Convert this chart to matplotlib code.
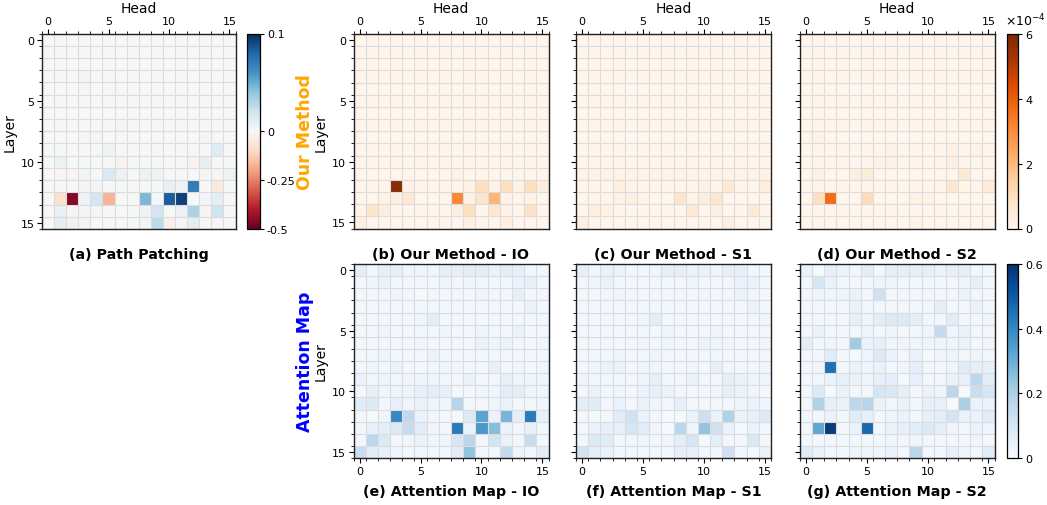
import numpy as np
import matplotlib
matplotlib.use("Agg")
import matplotlib.pyplot as plt
from matplotlib.colors import TwoSlopeNorm, Normalize

plt.rcParams["font.family"] = ["DejaVu Sans"]

N_LAYERS = 16
N_HEADS = 16

# Path patching effect per (layer, head)
path_patching = [
    [0, 0, 0, 0, 0, 0, 0, 0, 0, 0, 0, 0, 0, 0, 0, 0],
    [0, 0, 0, 0, 0, 0, 0, 0, 0, 0, 0, 0, 0, 0, 0, 0],
    [0, 0, 0, 0, 0, 0, 0, 0, 0, 0, 0, 0, 0, 0, 0, 0],
    [0, 0, 0, 0.002, 0, 0, 0, 0, 0, 0, 0, 0, 0, 0, 0, 0],
    [0, 0, 0, 0.002, 0, 0.002, 0, 0, 0, 0, 0, 0, 0, 0, 0, 0],
    [0, 0, 0, 0, 0, 0, 0, 0, 0, 0, 0, 0, 0, 0, 0, 0],
    [0, 0, 0, 0, 0, 0, 0, 0, 0, 0, 0, 0, 0, 0, 0, 0],
    [0, 0, 0, 0, 0, 0, 0.002, 0, 0, 0, 0, 0, 0, 0, 0, 0],
    [0, 0, 0, 0.002, 0.002, 0, 0, 0, 0, 0, 0, 0, 0, 0.002, 0, 0],
    [0, 0, 0, 0, 0, 0.004, 0, 0, 0, -0.002, 0, 0, 0, 0, 0.012, 0],
    [0, 0.005, 0, 0, 0, 0, -0.012, 0, 0, 0, 0, 0, -0.015, 0.008, 0, 0],
    [0, -0.008, -0.012, 0.003, 0, 0.015, 0.005, 0, 0.005, 0.004, 0, 0, 0, -0.008, 0.002, 0.005],
    [0, 0, 0, -0.01, 0.002, 0, 0, 0, 0, 0, 0.008, 0.004, 0.07, 0, -0.05, 0],
    [0, -0.08, -0.46, 0.006, 0.018, -0.17, 0, 0, 0.045, 0.001, 0.083, 0.093, 0, 0.002, 0.01, 0],
    [0, 0.008, -0.004, 0.002, -0.006, 0, 0, 0, 0.004, 0.018, 0, 0.005, 0.032, -0.005, 0.02, 0],
    [0, 0.01, 0.005, -0.012, 0, 0, 0, 0, 0.003, 0.027, -0.03, 0.002, 0.01, 0, -0.005, 0],
]

# Our method scores, in units of 1e-4
ours_io = [
    [0, 0, 0, 0, 0, 0, 0, 0, 0, 0, 0, 0, 0, 0, 0, 0],
    [0, 0, 0, 0, 0, 0, 0, 0, 0, 0, 0, 0, 0, 0, 0, 0],
    [0, 0, 0, 0, 0, 0, 0, 0, 0, 0, 0, 0, 0, 0, 0, 0],
    [0, 0, 0, 0, 0, 0, 0, 0, 0, 0, 0, 0, 0, 0, 0, 0],
    [0, 0, 0, 0, 0, 0, 0, 0, 0, 0, 0, 0, 0, 0, 0, 0],
    [0, 0, 0, 0, 0, 0, 0, 0, 0, 0, 0, 0, 0, 0, 0, 0],
    [0, 0, 0, 0, 0, 0, 0, 0, 0, 0, 0, 0, 0, 0, 0, 0],
    [0, 0, 0, 0, 0, 0, 0, 0, 0, 0, 0, 0, 0, 0, 0, 0],
    [0, 0, 0, 0, 0, 0, 0, 0, 0, 0, 0, 0, 0, 0, 0, 0],
    [0, 0, 0, 0, 0, 0, 0, 0, 0, 0, 0, 0, 0, 0, 0, 0],
    [0, 0, 0, 0, 0, 0, 0, 0, 0, 0, 0, 0, 0, 0, 0, 0],
    [0, 0, 0, 0, 0, 0, 0, 0, 0.2, 0, 0, 0, 0, 0, 0, 0],
    [0, 0, 0, 5.8, 0.1, 0, 0, 0, 0, 0.2, 1.0, 0.1, 1.0, 0.1, 1.0, 0.4],
    [0, 0, 0.1, 0.3, 0.6, 0, 0, 0, 3.1, 0.2, 0.8, 2.1, 0.1, 0, 0.1, 0],
    [0, 0.8, 0.4, 0, 0, 0, 0, 0, 0.3, 1.0, 0, 0.7, 0.2, 0, 0.9, 0],
    [0.3, 0, 0, 0, 0, 0, 0, 0, 0, 0.3, 0, 0, 0.3, 0, 0, 0],
]
ours_s1 = [
    [0, 0, 0, 0, 0, 0, 0, 0, 0, 0, 0, 0, 0, 0, 0, 0],
    [0, 0, 0, 0, 0, 0, 0, 0, 0, 0, 0, 0, 0, 0, 0, 0],
    [0, 0, 0, 0, 0, 0, 0, 0, 0, 0, 0, 0, 0, 0, 0, 0],
    [0, 0, 0, 0, 0, 0, 0, 0, 0, 0, 0, 0, 0, 0, 0, 0],
    [0, 0, 0, 0, 0, 0, 0, 0, 0, 0, 0, 0, 0, 0, 0, 0],
    [0, 0, 0, 0, 0, 0, 0, 0, 0, 0, 0, 0, 0, 0, 0, 0],
    [0, 0, 0, 0, 0, 0, 0, 0, 0, 0, 0, 0, 0, 0, 0, 0],
    [0, 0, 0, 0, 0, 0, 0, 0, 0, 0, 0, 0, 0, 0, 0, 0],
    [0, 0, 0, 0, 0, 0, 0, 0, 0, 0, 0, 0, 0, 0, 0, 0],
    [0, 0, 0, 0, 0, 0, 0, 0, 0, 0, 0, 0, 0, 0, 0, 0],
    [0, 0, 0, 0, 0, 0, 0, 0, 0, 0, 0, 0, 0, 0, 0, 0],
    [0.1, 0.1, 0.1, 0.1, 0.1, 0.1, 0.1, 0.1, 0.1, 0.1, 0.1, 0.1, 0.1, 0.1, 0.1, 0.1],
    [0, 0, 0, 0.3, 0.15, 0, 0, 0, 0, 0, 0.2, 0, 0.6, 0, 0, 0.4],
    [0, 0, 0, 0.2, 0.3, 0.15, 0, 0, 0.8, 0.15, 0.4, 0.7, 0, 0, 0, 0],
    [0, 0.3, 0.2, 0, 0, 0, 0, 0, 0, 0.6, 0, 0.3, 0, 0, 0.6, 0],
    [0.3, 0, 0, 0, 0, 0, 0, 0, 0, 0, 0, 0, 0.3, 0, 0, 0],
]
ours_s2 = [
    [0, 0, 0, 0, 0, 0, 0, 0, 0, 0, 0, 0, 0, 0, 0, 0],
    [0, 0, 0, 0, 0, 0, 0, 0, 0, 0, 0, 0, 0, 0, 0, 0],
    [0, 0, 0, 0, 0, 0, 0, 0, 0, 0, 0, 0, 0, 0, 0, 0],
    [0, 0, 0, 0, 0, 0, 0, 0, 0, 0, 0, 0, 0, 0, 0, 0],
    [0, 0, 0, 0, 0, 0, 0, 0, 0, 0, 0, 0, 0, 0, 0, 0],
    [0, 0, 0, 0, 0, 0, 0, 0, 0, 0, 0, 0, 0, 0, 0, 0],
    [0, 0, 0, 0, 0, 0, 0, 0, 0, 0, 0, 0, 0, 0, 0, 0],
    [0, 0, 0, 0, 0, 0, 0, 0, 0, 0, 0, 0, 0, 0, 0, 0],
    [0, 0.1, 0, 0, 0, 0, 0, 0, 0, 0, 0, 0, 0, 0, 0, 0],
    [0, 0, 0, 0, 0, 0, 0, 0.15, 0, 0, 0, 0, 0.2, 0, 0.1, 0],
    [0, 0, 0, 0, 0, 0, 0.15, 0.2, 0, 0, 0, 0, 0.3, 0, 0, 0],
    [0, 0.2, 0, 0, 0.3, 0.5, 0, 0, 0, 0, 0, 0, 0, 0.6, 0, 0],
    [0, 0, 0, 0, 0, 0, 0, 0, 0, 0, 0, 0, 0.7, 0, 0, 0.5],
    [0, 1.0, 3.7, 0, 0, 1.1, 0, 0, 0, 0.2, 0.2, 0, 0, 0, 0, 0],
    [0, 0, 0, 0, 0, 0, 0, 0, 0, 0, 0, 0, 0, 0, 0, 0],
    [0, 0, 0, 0, 0, 0, 0, 0, 0, 0.1, 0, 0, 0, 0, 0, 0],
]

# Attention weights per (layer, head)
attn_io = [
    [0.06, 0.02, 0.05, 0.05, 0.03, 0.03, 0.03, 0.05, 0.05, 0.06, 0.06, 0.04, 0.06, 0.05, 0.02, 0.02],
    [0.02, 0.03, 0.04, 0.02, 0.02, 0.02, 0.02, 0.03, 0.02, 0.03, 0.02, 0.02, 0.02, 0.04, 0.05, 0.02],
    [0.02, 0.02, 0.02, 0.03, 0.02, 0.01, 0.02, 0.02, 0.02, 0.02, 0.03, 0.02, 0.02, 0.05, 0.02, 0.02],
    [0.02, 0.02, 0.02, 0.02, 0.02, 0.02, 0.02, 0.02, 0.02, 0.02, 0.02, 0.02, 0.02, 0.02, 0.04, 0.02],
    [0.02, 0.02, 0.02, 0.02, 0.02, 0.03, 0.06, 0.02, 0.02, 0.02, 0.02, 0.02, 0.02, 0.02, 0.02, 0.02],
    [0.02, 0.02, 0.03, 0.02, 0.02, 0.02, 0.02, 0.03, 0.02, 0.02, 0.03, 0.02, 0.02, 0.04, 0.02, 0.02],
    [0.02, 0.02, 0.02, 0.02, 0.02, 0.03, 0.02, 0.02, 0.02, 0.02, 0.04, 0.03, 0.04, 0.02, 0.02, 0.03],
    [0.02, 0.02, 0.03, 0.02, 0.02, 0.02, 0.04, 0.02, 0.02, 0.02, 0.02, 0.02, 0.02, 0.02, 0.02, 0.02],
    [0.02, 0.03, 0.02, 0.04, 0.02, 0.02, 0.02, 0.03, 0.03, 0.02, 0.02, 0.05, 0.02, 0.03, 0.02, 0.03],
    [0.04, 0.02, 0.03, 0.02, 0.03, 0.03, 0.03, 0.02, 0.02, 0.04, 0.02, 0.02, 0.05, 0.03, 0.03, 0.03],
    [0.02, 0.05, 0.03, 0.03, 0.03, 0.05, 0.06, 0.05, 0.02, 0.02, 0.03, 0.03, 0.06, 0.06, 0.03, 0.03],
    [0.07, 0.08, 0.02, 0.05, 0.03, 0.04, 0.03, 0.03, 0.18, 0.02, 0.02, 0.03, 0.04, 0.02, 0.02, 0.03],
    [0.02, 0.01, 0.03, 0.40, 0.16, 0.04, 0.02, 0.02, 0.01, 0.08, 0.33, 0.04, 0.28, 0.06, 0.43, 0.05],
    [0.02, 0.05, 0.06, 0.08, 0.15, 0.07, 0.03, 0.02, 0.43, 0.04, 0.36, 0.26, 0.04, 0.02, 0.05, 0.02],
    [0.02, 0.17, 0.08, 0.02, 0.03, 0.04, 0.03, 0.03, 0.10, 0.17, 0.02, 0.11, 0.04, 0.02, 0.14, 0.02],
    [0.14, 0.07, 0.05, 0.03, 0.02, 0.02, 0.02, 0.02, 0.06, 0.24, 0.02, 0.02, 0.15, 0.03, 0.02, 0.06],
]
attn_s1 = [
    [0.05, 0.02, 0.04, 0.04, 0.02, 0.02, 0.03, 0.05, 0.05, 0.04, 0.04, 0.03, 0.05, 0.05, 0.02, 0.02],
    [0.02, 0.03, 0.04, 0.02, 0.02, 0.02, 0.02, 0.02, 0.02, 0.03, 0.02, 0.02, 0.02, 0.04, 0.04, 0.02],
    [0.02, 0.02, 0.02, 0.03, 0.02, 0.02, 0.02, 0.02, 0.02, 0.02, 0.03, 0.02, 0.02, 0.04, 0.02, 0.02],
    [0.02, 0.02, 0.02, 0.02, 0.02, 0.02, 0.02, 0.02, 0.02, 0.02, 0.02, 0.02, 0.02, 0.02, 0.04, 0.02],
    [0.02, 0.02, 0.02, 0.02, 0.02, 0.03, 0.06, 0.02, 0.02, 0.02, 0.02, 0.02, 0.02, 0.02, 0.02, 0.03],
    [0.02, 0.02, 0.02, 0.02, 0.02, 0.02, 0.02, 0.03, 0.02, 0.02, 0.02, 0.03, 0.02, 0.02, 0.02, 0.02],
    [0.02, 0.02, 0.02, 0.02, 0.02, 0.03, 0.02, 0.03, 0.02, 0.02, 0.04, 0.03, 0.03, 0.02, 0.02, 0.03],
    [0.02, 0.02, 0.02, 0.03, 0.02, 0.02, 0.03, 0.02, 0.02, 0.02, 0.02, 0.02, 0.02, 0.02, 0.02, 0.02],
    [0.02, 0.03, 0.04, 0.04, 0.02, 0.03, 0.03, 0.02, 0.02, 0.03, 0.02, 0.05, 0.02, 0.02, 0.02, 0.03],
    [0.03, 0.02, 0.02, 0.02, 0.02, 0.03, 0.05, 0.02, 0.02, 0.04, 0.02, 0.02, 0.05, 0.04, 0.03, 0.03],
    [0.02, 0.04, 0.02, 0.03, 0.02, 0.04, 0.05, 0.04, 0.02, 0.02, 0.02, 0.03, 0.05, 0.04, 0.03, 0.02],
    [0.06, 0.07, 0.02, 0.04, 0.02, 0.04, 0.03, 0.02, 0.05, 0.02, 0.02, 0.02, 0.02, 0.03, 0.04, 0.03],
    [0.02, 0.01, 0.02, 0.07, 0.12, 0.04, 0.02, 0.01, 0.01, 0.04, 0.13, 0.04, 0.19, 0.04, 0.05, 0.08],
    [0.02, 0.04, 0.05, 0.05, 0.10, 0.07, 0.03, 0.01, 0.17, 0.03, 0.24, 0.12, 0.04, 0.01, 0.04, 0.02],
    [0.02, 0.08, 0.07, 0.02, 0.02, 0.03, 0.02, 0.03, 0.06, 0.10, 0.01, 0.06, 0.02, 0.02, 0.09, 0.02],
    [0.11, 0.06, 0.04, 0.02, 0.02, 0.02, 0.02, 0.02, 0.05, 0.05, 0.02, 0.02, 0.12, 0.02, 0.01, 0.04],
]
attn_s2 = [
    [0.04, 0.01, 0.05, 0.04, 0.02, 0.06, 0.02, 0.05, 0.05, 0.05, 0.05, 0.04, 0.05, 0.05, 0.02, 0.02],
    [0.02, 0.10, 0.04, 0.02, 0.02, 0.02, 0.03, 0.03, 0.02, 0.02, 0.02, 0.02, 0.02, 0.03, 0.05, 0.02],
    [0.03, 0.03, 0.03, 0.03, 0.04, 0.02, 0.12, 0.02, 0.02, 0.02, 0.02, 0.02, 0.02, 0.04, 0.02, 0.02],
    [0.02, 0.02, 0.02, 0.02, 0.04, 0.02, 0.02, 0.02, 0.02, 0.02, 0.02, 0.06, 0.02, 0.02, 0.04, 0.02],
    [0.02, 0.02, 0.02, 0.02, 0.05, 0.03, 0.06, 0.08, 0.08, 0.06, 0.02, 0.02, 0.07, 0.02, 0.02, 0.03],
    [0.02, 0.04, 0.02, 0.02, 0.02, 0.03, 0.02, 0.03, 0.02, 0.02, 0.03, 0.15, 0.03, 0.04, 0.02, 0.02],
    [0.06, 0.02, 0.03, 0.02, 0.22, 0.04, 0.05, 0.03, 0.03, 0.03, 0.03, 0.03, 0.03, 0.04, 0.02, 0.03],
    [0.02, 0.02, 0.07, 0.02, 0.01, 0.03, 0.08, 0.04, 0.02, 0.04, 0.01, 0.03, 0.03, 0.02, 0.03, 0.02],
    [0.02, 0.03, 0.45, 0.02, 0.04, 0.03, 0.04, 0.02, 0.03, 0.05, 0.02, 0.02, 0.03, 0.07, 0.05, 0.05],
    [0.02, 0.02, 0.04, 0.05, 0.04, 0.03, 0.05, 0.06, 0.01, 0.05, 0.02, 0.02, 0.04, 0.05, 0.17, 0.07],
    [0.02, 0.08, 0.01, 0.04, 0.02, 0.02, 0.10, 0.09, 0.05, 0.02, 0.04, 0.03, 0.17, 0.01, 0.14, 0.10],
    [0.02, 0.19, 0.05, 0.04, 0.17, 0.18, 0.04, 0.02, 0.04, 0.02, 0.05, 0.05, 0.01, 0.20, 0.04, 0.04],
    [0.02, 0.02, 0.04, 0.02, 0.07, 0.05, 0.02, 0.03, 0.04, 0.02, 0.05, 0.06, 0.11, 0.04, 0.04, 0.07],
    [0.02, 0.32, 0.57, 0.02, 0.04, 0.47, 0.02, 0.04, 0.05, 0.07, 0.08, 0.06, 0.03, 0.02, 0.04, 0.03],
    [0.02, 0.02, 0.02, 0.02, 0.02, 0.02, 0.02, 0.03, 0.02, 0.03, 0.02, 0.02, 0.02, 0.02, 0.03, 0.02],
    [0.07, 0.04, 0.02, 0.02, 0.03, 0.03, 0.03, 0.04, 0.02, 0.17, 0.02, 0.02, 0.05, 0.03, 0.02, 0.07],
]

captions_top = ["(a) Path Patching", "(b) Our Method - IO", "(c) Our Method - S1", "(d) Our Method - S2"]
captions_bottom = ["(e) Attention Map - IO", "(f) Attention Map - S1", "(g) Attention Map - S2"]
major_ticks = [0, 5, 10, 15]

W, H = 1047, 506
fig = plt.figure(figsize=(W / 100, H / 100), dpi=100)

x_edges = np.arange(-0.5, N_HEADS, 1.0)
y_edges = np.arange(-0.5, N_LAYERS, 1.0)


def px_axes(x0, y0, x1, y1):
    """Add axes from a pixel box measured from the top-left corner."""
    return fig.add_axes([x0 / W, 1 - y1 / H, (x1 - x0) / W, (y1 - y0) / H])


def heatmap(ax, data, cmap, norm):
    return ax.pcolormesh(x_edges, y_edges, np.asarray(data, dtype=float),
                         cmap=cmap, norm=norm, linewidth=0, antialiased=False)


def style_heatmap(ax, top=True, show_ylabels=True, ylabel=True):
    ax.set_xlim(-0.5, N_HEADS - 0.5)
    ax.set_ylim(N_LAYERS - 0.5, -0.5)
    ax.set_xticks(major_ticks)
    ax.set_yticks(major_ticks)
    ax.set_xticks(x_edges, minor=True)
    ax.set_yticks(y_edges, minor=True)
    ax.grid(which="minor", color="#dcdcdc", linewidth=0.8)
    ax.grid(which="major", visible=False)
    ax.tick_params(which="major", length=3.5, width=0.8, labelsize=8, pad=2)
    ax.tick_params(which="minor", length=2, width=0.6)
    if top:
        ax.xaxis.tick_top()
        ax.xaxis.set_label_position("top")
        ax.set_xlabel("Head", fontsize=10, labelpad=3)
    if not show_ylabels:
        ax.tick_params(axis="y", which="both", labelleft=False)
    if ylabel:
        ax.set_ylabel("Layer", fontsize=10, labelpad=3)
    for s in ax.spines.values():
        s.set_linewidth(1.0)
        s.set_color("#222222")


def style_cbar(cb):
    cb.outline.set_linewidth(0.9)
    cb.ax.tick_params(length=3, width=0.8, labelsize=8, pad=2)


# Top row
y_top0, y_top1 = 35, 229.5
ax_a = px_axes(42, 34.5, 235.5, 230)
mesh_a = heatmap(ax_a, path_patching, "RdBu",
                 TwoSlopeNorm(vmin=-0.5, vcenter=0.0, vmax=0.1))
style_heatmap(ax_a, top=True, show_ylabels=True, ylabel=True)
cax_a = px_axes(247, 34.5, 260, 230)
cb_a = fig.colorbar(mesh_a, cax=cax_a)
cb_a.set_ticks([0.1, 0.0, -0.25, -0.5])
cb_a.set_ticklabels(["0.1", "0", "-0.25", "-0.5"])
style_cbar(cb_a)

ours_norm = Normalize(vmin=0, vmax=6)
ours_sets = [ours_io, ours_s1, ours_s2]
panel_x = [(353.5, 548.5), (576, 771), (800, 994.5)]
mesh_o = None
for i, (data, (x0, x1)) in enumerate(zip(ours_sets, panel_x)):
    ax = px_axes(x0, y_top0, x1, y_top1)
    mesh_o = heatmap(ax, data, "Oranges", ours_norm)
    style_heatmap(ax, top=True, show_ylabels=(i == 0), ylabel=(i == 0))

cax_o = px_axes(1006.5, y_top0, 1018, y_top1)
cb_o = fig.colorbar(mesh_o, cax=cax_o)
cb_o.set_ticks([0, 2, 4, 6])
cb_o.set_ticklabels(["0", "2", "4", "6"])
style_cbar(cb_o)
cax_o.text(-0.1, 1.03, r"$\times10^{-4}$", transform=cax_o.transAxes,
           ha="left", va="bottom", fontsize=9)

# Bottom row
y_bot0, y_bot1 = 265, 459
attn_norm = Normalize(vmin=0, vmax=0.6)
attn_sets = [attn_io, attn_s1, attn_s2]
mesh_b = None
for i, (data, (x0, x1)) in enumerate(zip(attn_sets, panel_x)):
    ax = px_axes(x0, y_bot0, x1, y_bot1)
    mesh_b = heatmap(ax, data, "Blues", attn_norm)
    style_heatmap(ax, top=False, show_ylabels=(i == 0), ylabel=(i == 0))

cax_b = px_axes(1006.5, y_bot0, 1018, y_bot1)
cb_b = fig.colorbar(mesh_b, cax=cax_b)
cb_b.set_ticks([0, 0.2, 0.4, 0.6])
cb_b.set_ticklabels(["0", "0.2", "0.4", "0.6"])
style_cbar(cb_b)

# Captions
cap_kw = dict(ha="center", va="center", fontsize=10.3, fontweight="bold")
fig.text(138.5 / W, 1 - 255 / H, captions_top[0], **cap_kw)
for cap, (x0, x1) in zip(captions_top[1:], panel_x):
    fig.text((x0 + x1) / 2 / W, 1 - 255 / H, cap, **cap_kw)
for cap, (x0, x1) in zip(captions_bottom, panel_x):
    fig.text((x0 + x1) / 2 / W, 1 - 492 / H, cap, **cap_kw)

# Row titles
fig.text(305 / W, 1 - 132 / H, "Our Method", rotation=90, ha="center", va="center",
         fontsize=12.5, fontweight="bold", color="#FFA500")
fig.text(305 / W, 1 - 362 / H, "Attention Map", rotation=90, ha="center", va="center",
         fontsize=12.5, fontweight="bold", color="#0000FF")

fig.savefig("out.png", dpi=100)
